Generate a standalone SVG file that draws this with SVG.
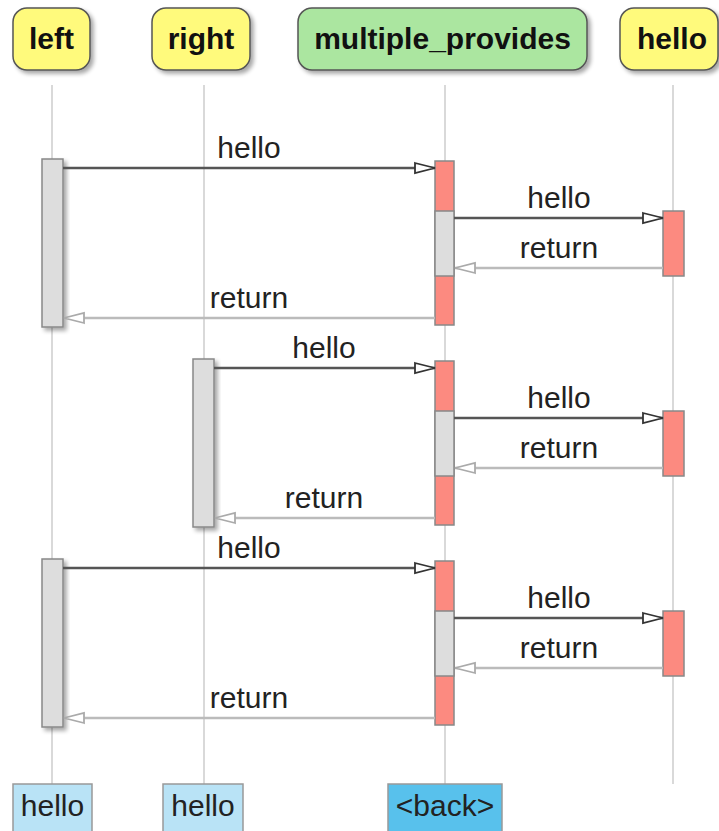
<svg xmlns="http://www.w3.org/2000/svg" width="719" height="831" viewBox="0 0 719 831">
<defs>
<filter id="sh" x="-20%" y="-20%" width="150%" height="150%"><feGaussianBlur in="SourceAlpha" stdDeviation="2"/><feOffset dx="3" dy="3"/><feComponentTransfer><feFuncA type="linear" slope="0.35"/></feComponentTransfer><feMerge><feMergeNode/><feMergeNode in="SourceGraphic"/></feMerge></filter>
<marker id="call" markerUnits="userSpaceOnUse" markerWidth="24" markerHeight="14" refX="22" refY="7" orient="auto"><path d="M2,2 L22,7 L2,12 Z" fill="#fff" stroke="#333" stroke-width="1.8"/></marker>
<marker id="ret" markerUnits="userSpaceOnUse" markerWidth="24" markerHeight="14" refX="22" refY="7" orient="auto"><path d="M2,2 L22,7 L2,12 Z" fill="#fff" stroke="#aaa" stroke-width="1.8"/></marker>
</defs>
<style>
.hdr{stroke:#555;stroke-width:1.5}
.yel{fill:#fffa7c}
.grn{fill:#abe6a0}
.ht{font-family:"Liberation Sans",Arial,sans-serif;font-weight:bold;font-size:30px;fill:#111;text-anchor:middle}
.life{stroke:#ccc;stroke-width:1.5}
.bar{stroke:#888;stroke-width:1.5}
.g{fill:#ddd}
.r{fill:#fc8a80}
.call{stroke:#555;stroke-width:2.5;fill:none;marker-end:url(#call)}
.rtn{stroke:#bbb;stroke-width:2.5;fill:none;marker-end:url(#ret)}
.lbl{font-family:"Liberation Sans",Arial,sans-serif;font-size:30px;fill:#222;text-anchor:middle}
.ft{stroke:#999;stroke-width:1.5}
.lb{fill:#b9e3f6}
.db{fill:#58c1ec}
</style>
<g id="lifelines">
<line class="life" x1="52" y1="85" x2="52" y2="784"/>
<line class="life" x1="204" y1="85" x2="204" y2="784"/>
<line class="life" x1="445" y1="85" x2="445" y2="784"/>
<line class="life" x1="673" y1="85" x2="673" y2="784"/>
</g>
<g id="left">
<rect class="hdr yel" x="13" y="8" width="77" height="62" rx="14" filter="url(#sh)"/>
<text class="ht" x="51.5" y="49">left</text>
</g>
<g id="right">
<rect class="hdr yel" x="152" y="8" width="98" height="62" rx="14" filter="url(#sh)"/>
<text class="ht" x="201" y="49">right</text>
</g>
<g id="multiple_provides">
<rect class="hdr grn" x="298" y="8" width="289" height="62" rx="14" filter="url(#sh)"/>
<text class="ht" x="442.5" y="49">multiple_provides</text>
</g>
<g id="hello">
<rect class="hdr yel" x="620" y="8" width="98" height="62" rx="14" filter="url(#sh)"/>
<text class="ht" x="672" y="49">hello</text>
</g>
<g id="activations">
<rect class="bar g" x="42" y="159" width="21" height="168" filter="url(#sh)"/>
<rect class="bar r" x="435" y="161" width="19" height="164"/>
<rect class="bar g" x="435" y="211" width="19" height="65"/>
<rect class="bar r" x="663" y="211" width="21" height="65"/>
<rect class="bar g" x="193" y="359" width="21" height="168" filter="url(#sh)"/>
<rect class="bar r" x="435" y="361" width="19" height="164"/>
<rect class="bar g" x="435" y="411" width="19" height="65"/>
<rect class="bar r" x="663" y="411" width="21" height="65"/>
<rect class="bar g" x="42" y="559" width="21" height="168" filter="url(#sh)"/>
<rect class="bar r" x="435" y="561" width="19" height="164"/>
<rect class="bar g" x="435" y="611" width="19" height="65"/>
<rect class="bar r" x="663" y="611" width="21" height="65"/>
</g>
<g id="connectors">
<line class="call" x1="63" y1="168" x2="435" y2="168"/>
<line class="call" x1="454" y1="218" x2="663" y2="218"/>
<line class="rtn" x1="663" y1="268" x2="455" y2="268"/>
<line class="rtn" x1="435" y1="318" x2="64" y2="318"/>
<line class="call" x1="214" y1="368" x2="435" y2="368"/>
<line class="call" x1="454" y1="418" x2="663" y2="418"/>
<line class="rtn" x1="663" y1="468" x2="455" y2="468"/>
<line class="rtn" x1="435" y1="518" x2="215" y2="518"/>
<line class="call" x1="63" y1="568" x2="435" y2="568"/>
<line class="call" x1="454" y1="618" x2="663" y2="618"/>
<line class="rtn" x1="663" y1="668" x2="455" y2="668"/>
<line class="rtn" x1="435" y1="718" x2="64" y2="718"/>
</g>
<g id="labels">
<text class="lbl" x="249" y="158">hello</text>
<text class="lbl" x="559" y="208">hello</text>
<text class="lbl" x="559" y="258">return</text>
<text class="lbl" x="249" y="308">return</text>
<text class="lbl" x="324" y="358">hello</text>
<text class="lbl" x="559" y="408">hello</text>
<text class="lbl" x="559" y="458">return</text>
<text class="lbl" x="324" y="508">return</text>
<text class="lbl" x="249" y="558">hello</text>
<text class="lbl" x="559" y="608">hello</text>
<text class="lbl" x="559" y="658">return</text>
<text class="lbl" x="249" y="708">return</text>
</g>
<g id="foot_left">
<rect class="ft lb" x="13" y="784" width="79" height="50"/>
<text class="lbl" x="52.5" y="816">hello</text>
</g>
<g id="foot_right">
<rect class="ft lb" x="163" y="784" width="80" height="50"/>
<text class="lbl" x="203" y="816">hello</text>
</g>
<g id="foot_back">
<rect class="ft db" x="388" y="784" width="114" height="50"/>
<text class="lbl" x="445" y="816">&lt;back&gt;</text>
</g>
</svg>
